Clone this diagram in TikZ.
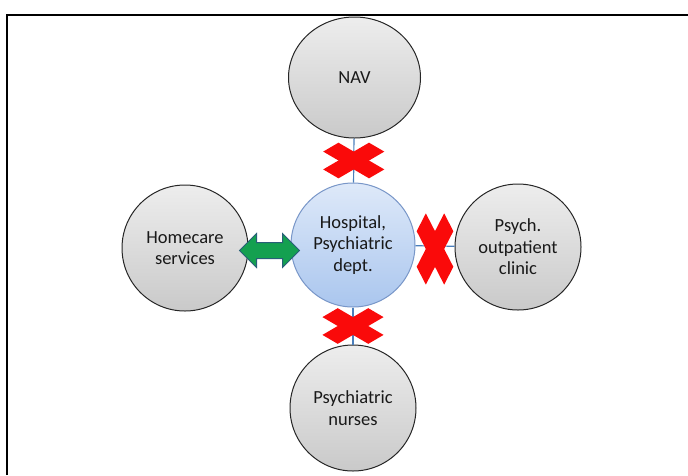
\documentclass[tikz,border=0pt]{standalone}
\usepackage{fontspec}
\setmainfont{Carlito}
\usetikzlibrary{calc,shapes.geometric}
\definecolor{linkblue}{RGB}{74,126,187}
\definecolor{hubline}{RGB}{120,150,200}
\definecolor{hubtop}{RGB}{222,233,249}
\definecolor{hubbot}{RGB}{170,198,238}
\definecolor{arrowgreen}{RGB}{20,160,80}
\definecolor{arrowline}{RGB}{40,95,120}
\definecolor{crossred}{RGB}{250,10,10}

\begin{document}
\begin{tikzpicture}[x=1pt, y=-1pt,
    unit/.style={circle, draw=black!85, line width=1pt, top color=black!7, bottom color=black!21,
      minimum size=126pt, inner sep=0pt, align=center, font=\fontsize{18.5}{21.5}\selectfont, text=black!90},
    hub/.style={unit, draw=hubline, top color=hubtop, bottom color=hubbot, minimum size=124pt},
    link/.style={draw=linkblue, line width=1.2pt},
    nox/.pic={
      \fill[crossred, rotate=45] (-1.08,-0.36) -- (1.08,-0.36) -- (1.08,0.36) -- (-1.08,0.36) -- cycle;
      \fill[crossred, rotate=-45] (-1.08,-0.36) -- (1.08,-0.36) -- (1.08,0.36) -- (-1.08,0.36) -- cycle;
    }]
  \useasboundingbox (0,0) rectangle (688,475);
  \draw[line width=2pt] (7,475) -- (7,14.5) -- (688,14.5);

  \node[hub] (hosp) at (353,245) {Hospital,\\Psychiatric\\dept.};
  \node[unit, ellipse, minimum width=132pt, minimum height=121pt] (nav) at (354.5,77.5) {NAV};
  \node[unit] (home) at (185,248) {Homecare\\services};
  \node[unit] (psych) at (518,247) {Psych.\\outpatient\\clinic};
  \node[unit] (nurses) at (353,408) {Psychiatric\\nurses};

  \draw[link] (nav) -- (hosp);
  \draw[link] (hosp) -- (psych);
  \draw[link] (hosp) -- (nurses);

  \pic[xscale=30, yscale=17.5] at ($(nav.south)!0.5!(hosp.north)$) {nox};
  \pic[xscale=30, yscale=17.5] at ($(hosp.south)!0.5!(nurses.north)$) {nox};
  \pic[xscale=18, yscale=35] at ($(hosp.east)!0.5!(psych.west)+(0,3)$) {nox};

  \coordinate (arrmid) at ($(home.east)!0.5!(hosp.west)+(0,4)$);
  \draw[fill=arrowgreen, draw=arrowline, line width=1pt, shift={(arrmid)}]
    (-30,0) -- (-13,-17) -- (-13,-8) -- (13,-8) -- (13,-17) -- (30,0)
    -- (13,17) -- (13,8) -- (-13,8) -- (-13,17) -- cycle;
\end{tikzpicture}
\end{document}
